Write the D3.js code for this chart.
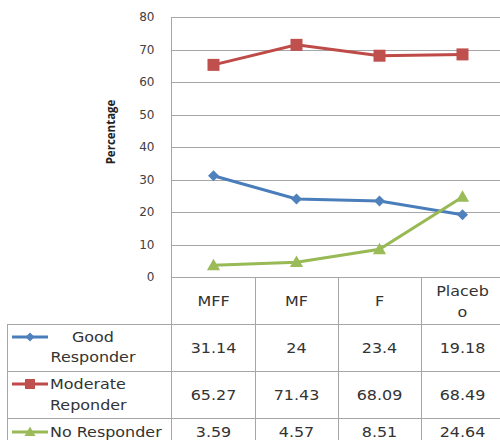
<!DOCTYPE html>
<html><head><meta charset="utf-8">
<script src="https://cdn.jsdelivr.net/npm/d3@7"></script>
<style>body{margin:0;background:#fff}svg{display:block}</style>
</head><body>
<script>
const categories = ["MFF", "MF", "F", "Placebo"];
const categoryLines = [["MFF"], ["MF"], ["F"], ["Placeb", "o"]];
const seriesNames = ["Good Responder", "Moderate Reponder", "No Responder"];
const seriesLabelLines = [["Good", "Responder"], ["Moderate", "Reponder"], ["No Responder"]];
const goodResponder = [31.14, 24, 23.4, 19.18];
const moderateResponder = [65.27, 71.43, 68.09, 68.49];
const noResponder = [3.59, 4.57, 8.51, 24.64];
const yTicks = [0, 10, 20, 30, 40, 50, 60, 70, 80];

const series = [
  {name: seriesNames[0], label: seriesLabelLines[0], values: goodResponder, color: "#4A7EBB", fill: "#4F81BD", marker: "diamond"},
  {name: seriesNames[1], label: seriesLabelLines[1], values: moderateResponder, color: "#BE4B48", fill: "#C0504D", marker: "square"},
  {name: seriesNames[2], label: seriesLabelLines[2], values: noResponder, color: "#98B954", fill: "#9BBB59", marker: "triangle"}
];

const W = 500, H = 440;
const svg = d3.select("body").append("svg").attr("width", W).attr("height", H);
const font = "'DejaVu Sans', sans-serif";
const txtCol = "#333";

const x = d3.scaleBand().domain(categories).range([172, 504]);
const y = d3.scaleLinear().domain([0, 80]).range([277, 17]);

// gridlines
svg.append("g").selectAll("line").data(yTicks).join("line")
  .attr("x1", 172).attr("x2", W).attr("y1", d => Math.round(y(d)) + 0.5).attr("y2", d => Math.round(y(d)) + 0.5)
  .attr("stroke", "#a6a6a6").attr("stroke-width", 1);

// y axis
const yAxis = d3.axisLeft(y).tickValues(yTicks).tickSize(0).tickPadding(17);
const ga = svg.append("g").attr("transform", "translate(171.5,0)").call(yAxis);
ga.select(".domain").attr("stroke", "#a6a6a6").attr("d", `M0,${y(80)}V${H}`);
ga.selectAll("text").attr("font-family", font).attr("font-size", 12).attr("fill", "#404040");

svg.append("text").attr("transform", "translate(115,132) rotate(-90)")
  .attr("text-anchor", "middle").attr("font-family", "'Open Sans', sans-serif").attr("font-weight", 700)
  .attr("font-size", 11.5).attr("fill", "#222").text("Percentage");

// lines + markers
const line = d3.line().x((d, i) => x(categories[i]) + x.bandwidth() / 2).y(d => y(d));
function drawMarker(g, type, cx, cy, fill, s) {
  if (type === "diamond") {
    g.append("path").attr("d", `M${cx},${cy - s}L${cx + s},${cy}L${cx},${cy + s}L${cx - s},${cy}Z`).attr("fill", fill);
  } else if (type === "square") {
    g.append("rect").attr("x", cx - s).attr("y", cy - s).attr("width", 2 * s).attr("height", 2 * s).attr("fill", fill);
  } else {
    g.append("path").attr("d", `M${cx},${cy - s * 1.1}L${cx + s * 1.1},${cy + s * 0.8}L${cx - s * 1.1},${cy + s * 0.8}Z`).attr("fill", fill);
  }
}
const sizes = {diamond: 5.5, square: 6, triangle: 6};
series.forEach(s => {
  const g = svg.append("g");
  g.append("path").attr("d", line(s.values)).attr("fill", "none").attr("stroke", s.color).attr("stroke-width", 3);
  s.values.forEach((v, i) => drawMarker(g, s.marker, x(categories[i]) + x.bandwidth() / 2, y(v), s.fill, sizes[s.marker]));
});

// data table
const rowTops = [277, 324, 371, 418, 465];
const tg = svg.append("g");
const stroke = "#a6a6a6";
// horizontal lines
tg.append("line").attr("x1", 172).attr("x2", W).attr("y1", 277.5).attr("y2", 277.5).attr("stroke", stroke);
[324, 371, 418].forEach(yy => tg.append("line").attr("x1", 7).attr("x2", W).attr("y1", yy + 0.5).attr("y2", yy + 0.5).attr("stroke", stroke));
// vertical lines
categories.forEach((c, i) => { if (i > 0) tg.append("line").attr("x1", x(c) + 0.5).attr("x2", x(c) + 0.5).attr("y1", 277).attr("y2", H).attr("stroke", stroke); });
tg.append("line").attr("x1", 7.5).attr("x2", 7.5).attr("y1", 324).attr("y2", H).attr("stroke", stroke);

function txt(tx, ty, s, anchor) {
  tg.append("text").attr("transform", `translate(${tx},${ty}) scale(1.14,1)`)
    .attr("text-anchor", anchor || "middle").attr("dy", "0.36em")
    .attr("font-family", font).attr("font-size", 14).attr("fill", txtCol).text(s);
}
// header
categoryLines.forEach((lines, i) => {
  const cx = x(categories[i]) + x.bandwidth() / 2;
  if (lines.length === 1) txt(cx, 301, lines[0]);
  else lines.forEach((l, j) => txt(cx, 291 + j * 21, l));
});
// rows
const rowCenters = [348, 395, 432];
const labelY = [[337, 357], [384, 405], [432]];
series.forEach((s, r) => {
  s.values.forEach((v, i) => txt(x(categories[i]) + x.bandwidth() / 2, rowCenters[r], String(v)));
  // legend key
  const ly = labelY[r][0];
  tg.append("line").attr("x1", 12).attr("x2", 48).attr("y1", ly).attr("y2", ly).attr("stroke", s.color).attr("stroke-width", 3);
  drawMarker(tg, s.marker, 30, ly, s.fill, sizes[s.marker] - 1);
  if (r === 0) s.label.forEach((l, j) => txt(93, labelY[r][j], l));
  else s.label.forEach((l, j) => txt(50, labelY[r][j], l, "start"));
});
</script>
</body></html>
